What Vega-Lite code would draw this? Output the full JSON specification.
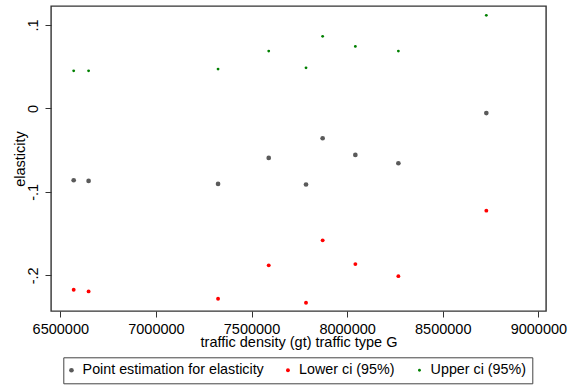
{
  "$schema": "https://vega.github.io/schema/vega-lite/v6.json",
  "width": 495,
  "height": 305,
  "autosize": "none",
  "padding": {"left": 51, "top": 6, "right": 22, "bottom": 74},
  "background": "white",
  "data": {
    "values": [
      {"x": 6570000, "series": "Point estimation for elasticity", "value": -0.0861},
      {"x": 6648000, "series": "Point estimation for elasticity", "value": -0.0869},
      {"x": 7325000, "series": "Point estimation for elasticity", "value": -0.0905},
      {"x": 7590000, "series": "Point estimation for elasticity", "value": -0.0593},
      {"x": 7785000, "series": "Point estimation for elasticity", "value": -0.0912},
      {"x": 7872000, "series": "Point estimation for elasticity", "value": -0.0357},
      {"x": 8043000, "series": "Point estimation for elasticity", "value": -0.0557},
      {"x": 8268000, "series": "Point estimation for elasticity", "value": -0.0657},
      {"x": 8728000, "series": "Point estimation for elasticity", "value": -0.0056},
      {"x": 6570000, "series": "Lower ci (95%)", "value": -0.2173},
      {"x": 6648000, "series": "Lower ci (95%)", "value": -0.2193},
      {"x": 7325000, "series": "Lower ci (95%)", "value": -0.2281},
      {"x": 7590000, "series": "Lower ci (95%)", "value": -0.1881},
      {"x": 7785000, "series": "Lower ci (95%)", "value": -0.2329},
      {"x": 7872000, "series": "Lower ci (95%)", "value": -0.1581},
      {"x": 8043000, "series": "Lower ci (95%)", "value": -0.1866},
      {"x": 8268000, "series": "Lower ci (95%)", "value": -0.2010},
      {"x": 8728000, "series": "Lower ci (95%)", "value": -0.1225},
      {"x": 6570000, "series": "Upper ci (95%)", "value": 0.0451},
      {"x": 6648000, "series": "Upper ci (95%)", "value": 0.0451},
      {"x": 7325000, "series": "Upper ci (95%)", "value": 0.0472},
      {"x": 7590000, "series": "Upper ci (95%)", "value": 0.0688},
      {"x": 7785000, "series": "Upper ci (95%)", "value": 0.0487},
      {"x": 7872000, "series": "Upper ci (95%)", "value": 0.0864},
      {"x": 8043000, "series": "Upper ci (95%)", "value": 0.0744},
      {"x": 8268000, "series": "Upper ci (95%)", "value": 0.0688},
      {"x": 8728000, "series": "Upper ci (95%)", "value": 0.1116}
    ]
  },
  "mark": {"type": "point", "shape": "circle", "filled": true, "opacity": 1},
  "encoding": {
    "x": {
      "field": "x",
      "type": "quantitative",
      "title": "traffic density (gt) traffic type G",
      "scale": {"domain": [6451400, 9040000], "nice": false, "zero": false},
      "axis": {
        "values": [6500000, 7000000, 7500000, 8000000, 8500000, 9000000],
        "format": "d",
        "labelBaseline": "alphabetic",
        "labelPadding": 16.5,
        "titleY": 35,
        "titleBaseline": "alphabetic"
      }
    },
    "y": {
      "field": "value",
      "type": "quantitative",
      "title": "elasticity",
      "scale": {"domain": [-0.2428, 0.1228], "nice": false, "zero": false},
      "axis": {
        "values": [-0.2, -0.1, 0, 0.1],
        "labelExpr": "datum.value == 0 ? '0' : replace(toString(datum.value), '0.', '.')",
        "labelAngle": 270,
        "labelAlign": "center",
        "labelBaseline": "alphabetic",
        "labelPadding": 7.5,
        "titleAngle": 270,
        "titleX": -26.5,
        "titleY": 152.5,
        "titleAlign": "center",
        "titleBaseline": "alphabetic"
      }
    },
    "color": {
      "field": "series",
      "type": "nominal",
      "scale": {
        "domain": ["Point estimation for elasticity", "Lower ci (95%)", "Upper ci (95%)"],
        "range": ["#5a5a5a", "#ff0000", "#008000"]
      },
      "legend": {
        "title": null,
        "orient": "none",
        "legendX": 12.3,
        "legendY": 351.3,
        "direction": "horizontal",
        "columns": 3,
        "columnPadding": 21.5,
        "labelOffset": 4,
        "symbolOffset": -4.5,
        "padding": 5.5,
        "strokeColor": "#444",
        "fillColor": "white"
      }
    },
    "size": {
      "field": "series",
      "type": "nominal",
      "scale": {
        "domain": ["Point estimation for elasticity", "Lower ci (95%)", "Upper ci (95%)"],
        "range": [22, 8, 8]
      },
      "legend": {
        "title": null,
        "orient": "none",
        "legendX": 12.3,
        "legendY": 351.3,
        "direction": "horizontal",
        "columns": 3,
        "columnPadding": 21.5,
        "labelOffset": 4,
        "symbolOffset": -4.5,
        "padding": 5.5,
        "strokeColor": "#444",
        "fillColor": "white"
      }
    }
  },
  "config": {
    "font": "Liberation Sans",
    "view": {"stroke": "#333", "strokeWidth": 1.4},
    "axis": {
      "domain": false,
      "grid": false,
      "ticks": true,
      "tickSize": 6,
      "tickColor": "#333",
      "tickWidth": 1,
      "labelFont": "Liberation Sans",
      "labelFontSize": 14.5,
      "labelColor": "#000",
      "titleFont": "Liberation Sans",
      "titleFontSize": 14.5,
      "titleFontWeight": "normal",
      "titleColor": "#000",
      "labelOverlap": false,
      "labelFlush": false
    },
    "legend": {
      "labelFont": "Liberation Sans",
      "labelFontSize": 14.3,
      "labelColor": "#000",
      "symbolStrokeWidth": 0,
      "symbolOpacity": 1,
      "labelLimit": 400
    }
  }
}
